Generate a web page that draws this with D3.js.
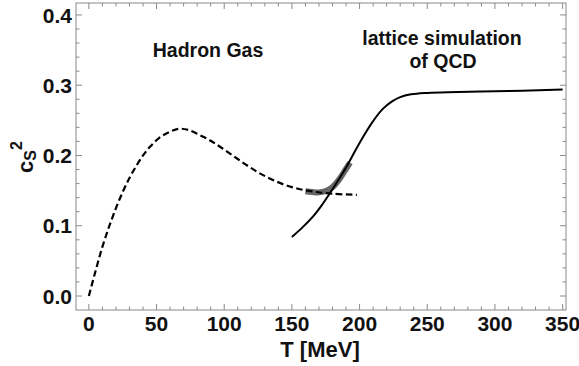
<!DOCTYPE html>
<head>
  <meta charset="utf-8">
  <title>Speed of sound squared</title>
  <style>
    body { margin: 0; background: #fff; }
    svg { font-family: "Liberation Sans", Arial, sans-serif; font-weight: bold; }
  </style>
</head>
<body>
  <svg width="579" height="366"></svg>
  <script src="https://d3js.org/d3.v7.min.js"></script>
  <script>
    // hadron resonance gas (dashed)
    var hadronT   = [0, 5, 10, 15, 20, 25, 30, 35, 40, 45, 52, 60, 67, 74, 82, 90, 98, 107, 116, 125, 134, 145, 156, 168, 180, 198];
    var hadronCs2 = [0, 0.036, 0.070, 0.099, 0.125, 0.148, 0.168, 0.185, 0.200, 0.212, 0.225, 0.234, 0.238, 0.236, 0.229, 0.221, 0.211, 0.199, 0.187, 0.176, 0.167, 0.158, 0.152, 0.148, 0.1455, 0.144];

    // lattice QCD (solid)
    var latticeT   = [150, 158, 166, 172, 178, 184, 190, 198, 204, 210, 217, 224, 230, 238, 248, 265, 290, 320, 350];
    var latticeCs2 = [0.084, 0.098, 0.114, 0.129, 0.146, 0.164, 0.183, 0.211, 0.231, 0.249, 0.266, 0.277, 0.283, 0.287, 0.289, 0.290, 0.291, 0.292, 0.294];

    // gray crossover band
    var bandT   = [160, 165, 170, 175, 180, 185, 190, 193];
    var bandCs2 = [0.149, 0.148, 0.1475, 0.1495, 0.155, 0.166, 0.181, 0.190];

    var xTicks = [0, 50, 100, 150, 200, 250, 300, 350];
    var yTicks = [0.0, 0.1, 0.2, 0.3, 0.4];

    var svg = d3.select("svg"),
        frame = {left: 76, right: 566, top: 3, bottom: 310};

    var x = d3.scaleLinear().domain([-9.5, 352.5]).range([frame.left, frame.right]);
    var y = d3.scaleLinear().domain([-0.0199, 0.417]).range([frame.bottom, frame.top]);

    var xMinor = d3.range(0, 351, 10),
        yMinor = d3.range(0, 0.41, 0.02);

    //frame ticks on all four sides, pointing inward
    var tickColor = "#8a8a8a";
    var g = svg.append("g").attr("stroke", tickColor).attr("stroke-width", 1);

    xMinor.forEach(function(t) {
      var len = (Math.round(t) % 50 === 0) ? 6 : 3.5;
      g.append("line").attr("x1", x(t)).attr("x2", x(t)).attr("y1", frame.bottom).attr("y2", frame.bottom - len);
      g.append("line").attr("x1", x(t)).attr("x2", x(t)).attr("y1", frame.top).attr("y2", frame.top + len);
    });
    yMinor.forEach(function(v) {
      var major = Math.abs(v * 10 - Math.round(v * 10)) < 1e-6;
      var len = major ? 6 : 3.5;
      g.append("line").attr("y1", y(v)).attr("y2", y(v)).attr("x1", frame.left).attr("x2", frame.left + len);
      g.append("line").attr("y1", y(v)).attr("y2", y(v)).attr("x1", frame.right).attr("x2", frame.right - len);
    });

    svg.append("rect")
        .attr("x", frame.left).attr("y", frame.top)
        .attr("width", frame.right - frame.left).attr("height", frame.bottom - frame.top)
        .attr("fill", "none").attr("stroke", tickColor).attr("stroke-width", 1);

    //tick labels
    svg.append("g").selectAll("text")
      .data(xTicks)
      .enter().append("text")
        .attr("x", function(d) { return x(d); })
        .attr("y", 331)
        .attr("text-anchor", "middle")
        .attr("font-size", 21)
        .attr("fill", "#111")
        .text(function(d) { return d; });

    svg.append("g").selectAll("text")
      .data(yTicks)
      .enter().append("text")
        .attr("x", 72)
        .attr("y", function(d) { return y(d); })
        .attr("dy", "0.36em")
        .attr("text-anchor", "end")
        .attr("font-size", 21)
        .attr("fill", "#111")
        .text(function(d) { return d.toFixed(1); });

    //axis titles
    svg.append("text")
        .attr("x", 320).attr("y", 357)
        .attr("text-anchor", "middle")
        .attr("font-size", 22)
        .attr("fill", "#111")
        .text("T [MeV]");

    var ylab = svg.append("text")
        .attr("transform", "translate(33,157) rotate(-90)")
        .attr("text-anchor", "middle")
        .attr("fill", "#111");
    ylab.append("tspan").attr("font-size", 22).text("c");
    ylab.append("tspan").attr("font-size", 16).attr("dy", 3).text("S");
    ylab.append("tspan").attr("font-size", 16).attr("dy", -14).text("2");

    //curves
    var line = d3.line()
        .x(function(d) { return x(d[0]); })
        .y(function(d) { return y(d[1]); })
        .curve(d3.curveCatmullRom.alpha(0.5));

    var hadron = hadronT.map(function(t, i) { return [t, hadronCs2[i]]; });
    var lattice = latticeT.map(function(t, i) { return [t, latticeCs2[i]]; });
    var band = bandT.map(function(t, i) { return [t, bandCs2[i]]; });

    svg.append("path")
        .attr("d", line(band))
        .attr("fill", "none")
        .attr("stroke", "#555")
        .attr("stroke-opacity", 0.9)
        .attr("stroke-width", 6);

    svg.append("path")
        .attr("d", line(hadron))
        .attr("fill", "none")
        .attr("stroke", "#000")
        .attr("stroke-width", 2.2)
        .attr("stroke-dasharray", "6.5,3.5");

    svg.append("path")
        .attr("d", line(lattice))
        .attr("fill", "none")
        .attr("stroke", "#000")
        .attr("stroke-width", 2);

    //annotations
    svg.append("text")
        .attr("x", 208).attr("y", 57)
        .attr("text-anchor", "middle")
        .attr("font-size", 19.5)
        .attr("fill", "#111")
        .text("Hadron Gas");

    svg.append("text")
        .attr("x", 442).attr("y", 45)
        .attr("text-anchor", "middle")
        .attr("font-size", 19.5)
        .attr("fill", "#111")
        .text("lattice simulation");

    svg.append("text")
        .attr("x", 443).attr("y", 68)
        .attr("text-anchor", "middle")
        .attr("font-size", 19.5)
        .attr("fill", "#111")
        .text("of QCD");
  </script>
</body>
